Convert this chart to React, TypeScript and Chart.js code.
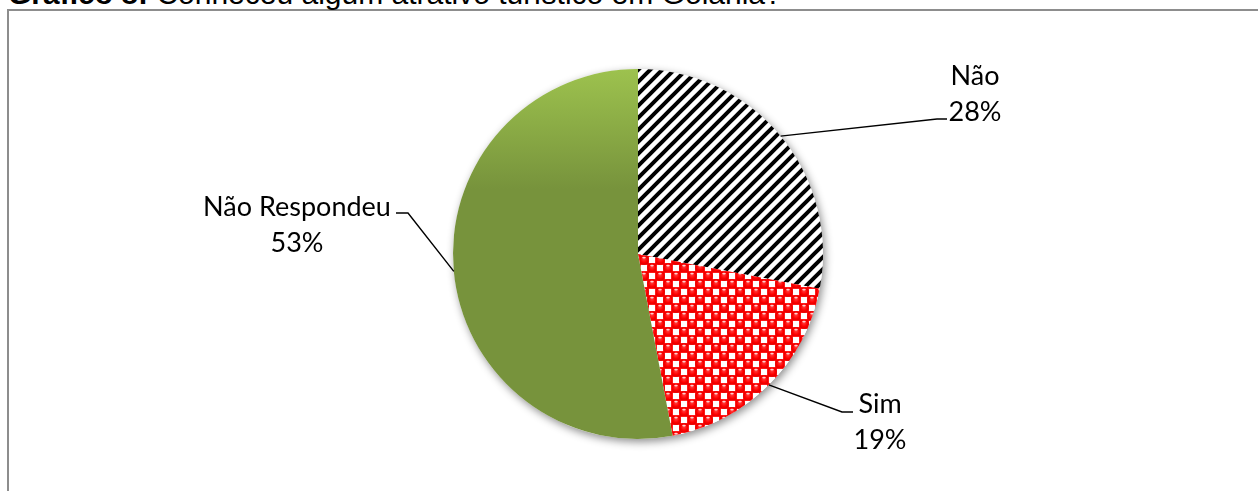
import React, { useEffect, useRef } from 'react';
import { Chart, registerables } from 'chart.js';

Chart.register(...registerables);

const TITLE_BOLD = 'Gráfico 8:';
const TITLE_REST = ' Conheceu algum atrativo turístico em Goiânia?';
const CATEGORIES = ['Não', 'Sim', 'Não Respondeu'];
const VALUES = [28, 19, 53];

// label block centres and leader elbows, relative to pie centre (layout only)
const LABEL_LAYOUT = [
  { tx: 337, ty: -160, elbow: [299, -135], end: [309, -135] },
  { tx: 242, ty: 168, elbow: [204, 158], end: [215, 158] },
  { tx: -341, ty: -29, elbow: [-230, -41], end: [-242, -41] },
];

const LABEL_FONT = '27px Lato';

function stripePattern(ctx: CanvasRenderingContext2D): CanvasPattern | string {
  const s = 12;
  const t = document.createElement('canvas');
  t.width = s;
  t.height = s;
  const c = t.getContext('2d');
  if (!c) return '#000';
  c.fillStyle = '#ffffff';
  c.fillRect(0, 0, s, s);
  c.strokeStyle = '#000000';
  c.lineWidth = 4;
  c.beginPath();
  c.moveTo(-s / 2, s / 2);
  c.lineTo(s / 2, -s / 2);
  c.moveTo(0, s);
  c.lineTo(s, 0);
  c.moveTo(s / 2, s * 1.5);
  c.lineTo(s * 1.5, s / 2);
  c.stroke();
  return ctx.createPattern(t, 'repeat') || '#000';
}

function ballPattern(ctx: CanvasRenderingContext2D): CanvasPattern | string {
  const s = 16;
  const h = s / 2;
  const r = 4.8;
  const t = document.createElement('canvas');
  t.width = s;
  t.height = s;
  const c = t.getContext('2d');
  if (!c) return '#f00';
  c.fillStyle = '#ff0000';
  c.fillRect(0, 0, s, s);
  // white squares in the "off" cells of the checkerboard
  const w = 6.2;
  c.fillStyle = '#ffffff';
  c.fillRect(h + h / 2 - w / 2, h / 2 - w / 2, w, w);
  c.fillRect(h / 2 - w / 2, h + h / 2 - w / 2, w, w);
  const centres = [
    [h / 2, h / 2],
    [h + h / 2, h + h / 2],
  ];
  for (const [x, y] of centres) {
    const g = c.createRadialGradient(x, y - 1.5, 0.5, x, y, r);
    g.addColorStop(0, '#ff3c3c');
    g.addColorStop(0.6, '#ff0000');
    g.addColorStop(1, '#dc0000');
    c.fillStyle = g;
    c.beginPath();
    c.arc(x, y, r, 0, Math.PI * 2);
    c.fill();
    c.fillStyle = 'rgba(255,225,225,0.9)';
    c.beginPath();
    c.ellipse(x, y - 2.4, 1.8, 0.9, 0, 0, Math.PI * 2);
    c.fill();
  }
  return ctx.createPattern(t, 'repeat') || '#f00';
}

const shadowPlugin = {
  id: 'pieShadow',
  beforeDatasetsDraw(chart: any) {
    const meta = chart.getDatasetMeta(0);
    const arc = meta.data[0];
    if (!arc) return;
    const { x, y, outerRadius } = arc.getProps(['x', 'y', 'outerRadius'], true);
    const ctx = chart.ctx;
    ctx.save();
    ctx.shadowColor = 'rgba(0,0,0,0.45)';
    ctx.shadowBlur = 9;
    ctx.shadowOffsetX = 2;
    ctx.shadowOffsetY = 3;
    ctx.fillStyle = '#ffffff';
    ctx.beginPath();
    ctx.arc(x, y, outerRadius, 0, Math.PI * 2);
    ctx.fill();
    ctx.restore();
  },
};

const labelPlugin = {
  id: 'outerLabels',
  afterDatasetsDraw(chart: any) {
    const meta = chart.getDatasetMeta(0);
    const ctx = chart.ctx;
    const data = chart.data.datasets[0].data as number[];
    const labels = chart.data.labels as string[];
    ctx.save();
    meta.data.forEach((arc: any, i: number) => {
      const p = arc.getProps(['x', 'y', 'startAngle', 'endAngle', 'outerRadius'], true);
      const mid = (p.startAngle + p.endAngle) / 2;
      const ex = p.x + Math.cos(mid) * p.outerRadius;
      const ey = p.y + Math.sin(mid) * p.outerRadius;
      const L = LABEL_LAYOUT[i];
      ctx.strokeStyle = '#000000';
      ctx.lineWidth = 1.4;
      ctx.beginPath();
      ctx.moveTo(ex, ey);
      ctx.lineTo(p.x + L.elbow[0], p.y + L.elbow[1]);
      ctx.lineTo(p.x + L.end[0], p.y + L.end[1]);
      ctx.stroke();
      ctx.fillStyle = '#000000';
      ctx.font = LABEL_FONT;
      ctx.textAlign = 'center';
      ctx.textBaseline = 'middle';
      ctx.fillText(labels[i], p.x + L.tx, p.y + L.ty - 18);
      ctx.fillText(`${data[i]}%`, p.x + L.tx, p.y + L.ty + 18);
    });
    ctx.restore();
  },
};

export default function App() {
  const ref = useRef<HTMLCanvasElement | null>(null);

  useEffect(() => {
    const canvas = ref.current;
    if (!canvas) return;
    const ctx = canvas.getContext('2d');
    if (!ctx) return;
    const stripes = stripePattern(ctx);
    const balls = ballPattern(ctx);
    const chart = new Chart(canvas, {
      type: 'pie',
      data: {
        labels: CATEGORIES,
        datasets: [
          {
            data: VALUES,
            borderWidth: 0,
            backgroundColor: (c: any) => {
              const i = c.dataIndex;
              if (i === 0) return stripes;
              if (i === 1) return balls;
              const area = c.chart.chartArea;
              if (!area) return '#77933c';
              const g = c.chart.ctx.createLinearGradient(0, area.top, 0, area.top + 120);
              g.addColorStop(0, '#9dc24e');
              g.addColorStop(1, '#77933c');
              return g;
            },
          },
        ],
      },
      options: {
        responsive: false,
        maintainAspectRatio: false,
        animation: false,
        layout: { padding: { left: 18, right: 0, top: 69, bottom: 52 } },
        plugins: {
          legend: { display: false },
          tooltip: { enabled: false },
        },
      },
      plugins: [shadowPlugin, labelPlugin],
    } as any);
    return () => chart.destroy();
  }, []);

  return (
    <div
      style={{
        position: 'absolute',
        left: 0,
        top: 0,
        width: 1258,
        height: 491,
        overflow: 'hidden',
        background: '#ffffff',
      }}
    >
      <div
        style={{
          position: 'absolute',
          left: 7,
          top: 9,
          width: 1400,
          height: 600,
          border: '2px solid #8d8d8d',
          boxSizing: 'border-box',
        }}
      />
      <div
        style={{
          position: 'absolute',
          left: 8,
          top: -21,
          fontFamily: '"Liberation Sans", Arial, sans-serif',
          fontSize: 30,
          lineHeight: '30px',
          whiteSpace: 'nowrap',
          color: '#000',
        }}
      >
        <b>{TITLE_BOLD}</b>
        {TITLE_REST}
      </div>
      <canvas
        ref={ref}
        width={1258}
        height={491}
        style={{ position: 'absolute', left: 0, top: 0, width: 1258, height: 491 }}
      />
    </div>
  );
}
